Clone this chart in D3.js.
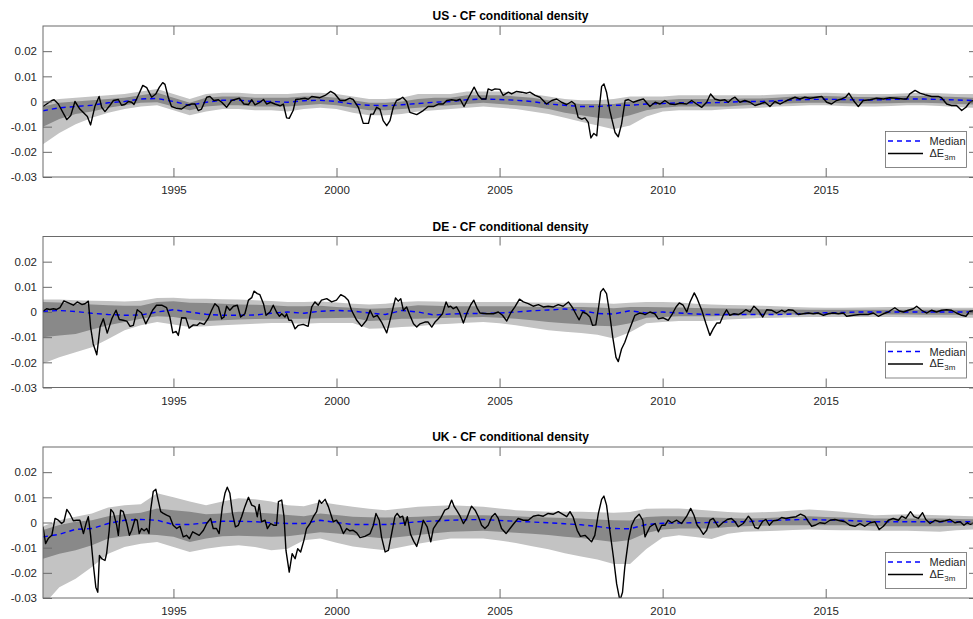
<!DOCTYPE html>
<html>
<head>
<meta charset="utf-8">
<script src="https://cdn.jsdelivr.net/npm/d3@7"></script>
<style>
  body { margin: 0; background: #fff; }
  svg { display: block; }
  text { font-family: "Liberation Sans", Arial, Helvetica, sans-serif; }
</style>
</head>
<body>
<svg id="chart" width="973" height="619"></svg>
<script>
// ---- axis ticks ----
const xTickValues = [1995, 2000, 2005, 2010, 2015];
const yTickValues = [-0.03, -0.02, -0.01, 0, 0.01, 0.02];
const yTickLabels = ["-0.03", "-0.02", "-0.01", "0", "0.01", "0.02"];

// ---- common half-year grid for the density bands ----
const bandDates = [
  1991, 1991.5, 1992, 1992.5, 1993, 1993.5, 1994, 1994.5, 1995, 1995.5,
  1996, 1996.5, 1997, 1997.5, 1998, 1998.5, 1999, 1999.5, 2000, 2000.5,
  2001, 2001.5, 2002, 2002.5, 2003, 2003.5, 2004, 2004.5, 2005, 2005.5,
  2006, 2006.5, 2007, 2007.5, 2008, 2008.5, 2009, 2009.5, 2010, 2010.5,
  2011, 2011.5, 2012, 2012.5, 2013, 2013.5, 2014, 2014.5, 2015, 2015.5,
  2016, 2016.5, 2017, 2017.5, 2018, 2018.5, 2019, 2019.5, 2019.67];

// ---- US ----
const usOuterHigh = [
  0.0000, 0.0010, 0.0015, 0.0020, 0.0025, 0.0030, 0.0040, 0.0050, 0.0030, 0.0010,
  0.0030, 0.0035, 0.0035, 0.0030, 0.0030, 0.0030, 0.0035, 0.0035, 0.0030, 0.0020,
  0.0010, 0.0010, 0.0015, 0.0030, 0.0030, 0.0030, 0.0040, 0.0040, 0.0040, 0.0035,
  0.0030, 0.0020, 0.0010, 0.0005, 0.0005, 0.0010, 0.0020, 0.0020, 0.0020, 0.0025,
  0.0025, 0.0025, 0.0025, 0.0025, 0.0025, 0.0028, 0.0030, 0.0033, 0.0035, 0.0033,
  0.0030, 0.0030, 0.0030, 0.0033, 0.0035, 0.0033, 0.0030, 0.0030, 0.0030];
const usInnerHigh = [
  -0.0020, -0.0005, 0.0000, 0.0005, 0.0010, 0.0015, 0.0025, 0.0035, 0.0015, -0.0005,
  0.0015, 0.0020, 0.0020, 0.0015, 0.0015, 0.0015, 0.0020, 0.0020, 0.0015, 0.0005,
  -0.0005, -0.0005, 0.0000, 0.0010, 0.0015, 0.0015, 0.0025, 0.0025, 0.0025, 0.0020,
  0.0015, 0.0005, -0.0005, -0.0010, -0.0010, -0.0010, 0.0000, 0.0005, 0.0005, 0.0010,
  0.0010, 0.0010, 0.0010, 0.0012, 0.0012, 0.0015, 0.0020, 0.0022, 0.0022, 0.0020,
  0.0018, 0.0018, 0.0020, 0.0022, 0.0022, 0.0020, 0.0018, 0.0015, 0.0015];
const usMedian = [
  -0.0037, -0.0025, -0.0020, -0.0015, -0.0005, 0.0000, 0.0010, 0.0012, 0.0000, -0.0015,
  -0.0003, 0.0005, 0.0005, 0.0000, 0.0000, -0.0003, 0.0003, 0.0005, 0.0000, -0.0010,
  -0.0015, -0.0017, -0.0013, -0.0008, -0.0003, 0.0000, 0.0007, 0.0010, 0.0008, 0.0005,
  0.0000, -0.0010, -0.0015, -0.0020, -0.0020, -0.0015, -0.0015, -0.0010, -0.0008, -0.0005,
  -0.0005, -0.0005, -0.0003, 0.0000, 0.0000, 0.0003, 0.0006, 0.0008, 0.0009, 0.0008,
  0.0006, 0.0006, 0.0008, 0.0010, 0.0010, 0.0008, 0.0006, 0.0004, 0.0003];
const usInnerLow = [
  -0.0100, -0.0070, -0.0050, -0.0040, -0.0025, -0.0015, -0.0005, -0.0003, -0.0020, -0.0035,
  -0.0020, -0.0015, -0.0015, -0.0020, -0.0020, -0.0020, -0.0015, -0.0010, -0.0015, -0.0025,
  -0.0035, -0.0035, -0.0030, -0.0025, -0.0020, -0.0015, -0.0010, -0.0005, -0.0010, -0.0015,
  -0.0020, -0.0030, -0.0045, -0.0055, -0.0065, -0.0070, -0.0055, -0.0035, -0.0025, -0.0020,
  -0.0020, -0.0020, -0.0020, -0.0015, -0.0013, -0.0010, -0.0007, -0.0005, -0.0005, -0.0007,
  -0.0008, -0.0008, -0.0007, -0.0005, -0.0005, -0.0007, -0.0010, -0.0012, -0.0012];
const usOuterLow = [
  -0.0170, -0.0125, -0.0090, -0.0065, -0.0045, -0.0030, -0.0020, -0.0015, -0.0035, -0.0055,
  -0.0040, -0.0030, -0.0030, -0.0035, -0.0035, -0.0040, -0.0030, -0.0025, -0.0030, -0.0045,
  -0.0055, -0.0055, -0.0050, -0.0040, -0.0035, -0.0030, -0.0025, -0.0020, -0.0025, -0.0030,
  -0.0040, -0.0050, -0.0065, -0.0080, -0.0095, -0.0110, -0.0095, -0.0060, -0.0040, -0.0035,
  -0.0035, -0.0035, -0.0030, -0.0028, -0.0025, -0.0020, -0.0018, -0.0015, -0.0015, -0.0018,
  -0.0020, -0.0020, -0.0018, -0.0015, -0.0015, -0.0018, -0.0022, -0.0025, -0.0025];
// realised 3-month change [date, value]
const usDeltaE = [
  [1991.0,-0.002],[1991.27,0.0004],[1991.34,0.0007],[1991.47,-0.001],[1991.73,-0.0072],[1991.85,-0.0056],
  [1991.98,0.0],[1992.13,-0.003],[1992.36,-0.006],[1992.46,-0.0093],[1992.59,-0.002],[1992.72,0.002],
  [1992.8,-0.0023],[1992.9,-0.004],[1993.05,-0.0016],[1993.16,0.0004],[1993.31,0.0008],[1993.41,-0.0015],
  [1993.51,-0.0012],[1993.62,0.0],[1993.72,-0.0003],[1993.79,-0.0012],[1993.92,0.0024],[1994.06,0.0064],
  [1994.18,0.0055],[1994.33,0.0017],[1994.46,0.003],[1994.57,0.0057],[1994.67,0.0075],[1994.74,0.0068],
  [1994.84,0.0017],[1994.94,-0.002],[1995.1,-0.0027],[1995.25,-0.003],[1995.4,-0.0016],[1995.56,-0.001],
  [1995.66,-0.001],[1995.76,-0.0036],[1995.86,-0.003],[1996.02,0.0017],[1996.12,0.002],[1996.24,0.0004],
  [1996.38,0.0007],[1996.48,-0.0003],[1996.63,-0.0023],[1996.78,0.0004],[1997.02,0.0013],[1997.16,-0.001],
  [1997.3,-0.0012],[1997.4,0.0007],[1997.5,-0.0013],[1997.65,-0.0003],[1997.76,0.0008],[1997.86,-0.001],
  [1997.98,-0.0003],[1998.11,-0.001],[1998.27,-0.0017],[1998.37,-0.001],[1998.47,-0.0065],[1998.55,-0.0067],
  [1998.67,-0.0036],[1998.75,0.0008],[1998.88,0.001],[1999.03,0.0013],[1999.13,0.0009],[1999.24,0.002],
  [1999.39,0.0017],[1999.49,0.0015],[1999.65,0.0024],[1999.82,0.004],[1999.95,0.003],[2000.11,0.0004],
  [2000.26,0.0004],[2000.41,0.0013],[2000.51,0.0008],[2000.67,-0.0023],[2000.82,-0.0087],[2000.98,-0.0087],
  [2001.05,-0.005],[2001.13,-0.005],[2001.23,-0.0023],[2001.33,-0.003],[2001.43,-0.0076],[2001.54,-0.0096],
  [2001.64,-0.0076],[2001.74,-0.0023],[2001.84,0.0004],[2001.95,0.001],[2002.03,0.0017],[2002.15,0.0],
  [2002.25,-0.0043],[2002.46,-0.0052],[2002.66,-0.0036],[2002.81,-0.002],[2002.97,-0.002],[2003.12,-0.001],
  [2003.27,-0.001],[2003.38,0.0004],[2003.53,0.0007],[2003.68,0.0004],[2003.79,0.0009],[2003.91,-0.002],
  [2004.04,0.0013],[2004.22,0.0057],[2004.35,0.0024],[2004.45,0.001],[2004.58,0.001],[2004.65,0.005],
  [2004.76,0.0044],[2004.86,0.005],[2005.01,0.0048],[2005.11,0.0024],[2005.27,0.0037],[2005.37,0.003],
  [2005.52,0.004],[2005.68,0.0037],[2005.83,0.0033],[2005.93,0.0037],[2006.09,0.0024],[2006.24,0.0017],
  [2006.44,-0.001],[2006.6,0.0004],[2006.75,0.001],[2006.9,-0.0003],[2007.06,-0.0012],[2007.21,0.0],
  [2007.31,-0.001],[2007.41,-0.0063],[2007.52,-0.007],[2007.62,-0.0065],[2007.72,-0.0083],[2007.8,-0.0145],
  [2007.89,-0.0127],[2007.98,-0.0136],[2008.06,-0.0023],[2008.13,0.006],[2008.2,0.007],[2008.28,0.0037],
  [2008.38,-0.0036],[2008.54,-0.0123],[2008.64,-0.014],[2008.74,-0.009],[2008.85,0.0004],[2008.95,0.0008],
  [2009.1,-0.0003],[2009.25,0.0004],[2009.41,0.001],[2009.61,-0.002],[2009.77,-0.0003],[2009.92,-0.001],
  [2010.07,0.0004],[2010.22,-0.001],[2010.38,-0.0012],[2010.53,-0.0007],[2010.74,-0.001],[2010.89,0.0004],
  [2011.04,-0.001],[2011.2,-0.0023],[2011.35,-0.0003],[2011.47,0.003],[2011.6,0.001],[2011.76,0.0004],
  [2011.91,0.0007],[2012.01,-0.0003],[2012.12,0.001],[2012.22,0.0017],[2012.37,-0.0003],[2012.52,0.0004],
  [2012.68,-0.0003],[2012.83,-0.0016],[2012.98,-0.001],[2013.14,-0.0003],[2013.29,-0.002],[2013.44,0.0],
  [2013.6,-0.001],[2013.75,0.0],[2013.9,0.0009],[2014.06,0.0017],[2014.21,0.001],[2014.36,0.0017],
  [2014.52,0.0013],[2014.72,0.0017],[2014.88,0.002],[2015.03,-0.0003],[2015.18,-0.001],[2015.33,0.0004],
  [2015.49,0.001],[2015.61,0.0017],[2015.71,0.0033],[2015.85,0.0004],[2016.0,-0.002],[2016.15,0.0004],
  [2016.36,0.0007],[2016.56,0.0013],[2016.77,0.001],[2016.97,0.0015],[2017.17,0.0013],[2017.38,0.001],
  [2017.48,0.001],[2017.58,0.003],[2017.74,0.0044],[2017.89,0.0033],[2018.04,0.0027],[2018.25,0.002],
  [2018.45,0.002],[2018.55,0.0015],[2018.71,-0.001],[2018.86,-0.0016],[2019.01,-0.0016],[2019.17,-0.0036],
  [2019.3,-0.0023],[2019.42,-0.0003],[2019.55,0.0005],[2019.67,-0.0008]];

// ---- DE ----
const deOuterHigh = [
  0.0050, 0.0050, 0.0047, 0.0045, 0.0044, 0.0042, 0.0045, 0.0056, 0.0057, 0.0053,
  0.0053, 0.0051, 0.0050, 0.0047, 0.0044, 0.0040, 0.0040, 0.0042, 0.0038, 0.0033,
  0.0030, 0.0033, 0.0040, 0.0043, 0.0042, 0.0040, 0.0040, 0.0040, 0.0040, 0.0040,
  0.0038, 0.0037, 0.0037, 0.0037, 0.0036, 0.0033, 0.0037, 0.0040, 0.0040, 0.0038,
  0.0033, 0.0030, 0.0028, 0.0027, 0.0025, 0.0023, 0.0020, 0.0018, 0.0017, 0.0017,
  0.0018, 0.0019, 0.0020, 0.0020, 0.0019, 0.0018, 0.0017, 0.0017, 0.0017];
const deInnerHigh = [
  0.0040, 0.0038, 0.0033, 0.0030, 0.0027, 0.0025, 0.0025, 0.0040, 0.0043, 0.0037,
  0.0036, 0.0033, 0.0030, 0.0029, 0.0027, 0.0023, 0.0023, 0.0025, 0.0020, 0.0017,
  0.0013, 0.0015, 0.0020, 0.0027, 0.0025, 0.0023, 0.0023, 0.0023, 0.0023, 0.0023,
  0.0021, 0.0020, 0.0020, 0.0020, 0.0018, 0.0015, 0.0020, 0.0020, 0.0019, 0.0018,
  0.0016, 0.0015, 0.0014, 0.0013, 0.0011, 0.0010, 0.0010, 0.0009, 0.0009, 0.0009,
  0.0009, 0.0009, 0.0009, 0.0009, 0.0009, 0.0009, 0.0009, 0.0009, 0.0009];
const deMedian = [
  0.0003, 0.0006, 0.0002, -0.0005, -0.0010, -0.0013, -0.0012, 0.0000, 0.0009, 0.0000,
  -0.0009, -0.0013, -0.0013, -0.0012, -0.0005, 0.0000, -0.0005, 0.0003, 0.0006, 0.0004,
  -0.0004, -0.0010, 0.0006, 0.0000, -0.0012, -0.0008, -0.0006, -0.0006, -0.0004, 0.0000,
  0.0005, 0.0008, 0.0012, 0.0006, -0.0006, -0.0008, 0.0005, -0.0004, 0.0000, -0.0004,
  -0.0008, -0.0010, -0.0010, -0.0010, -0.0010, -0.0010, -0.0008, -0.0005, -0.0003, -0.0002,
  0.0000, 0.0000, 0.0000, 0.0000, 0.0000, 0.0000, 0.0000, 0.0000, 0.0000];
const deInnerLow = [
  -0.0100, -0.0093, -0.0087, -0.0070, -0.0053, -0.0040, -0.0027, -0.0017, -0.0020, -0.0030,
  -0.0036, -0.0033, -0.0030, -0.0028, -0.0027, -0.0027, -0.0027, -0.0025, -0.0024, -0.0023,
  -0.0036, -0.0033, -0.0027, -0.0027, -0.0025, -0.0023, -0.0022, -0.0020, -0.0023, -0.0027,
  -0.0033, -0.0040, -0.0045, -0.0049, -0.0055, -0.0057, -0.0045, -0.0023, -0.0020, -0.0017,
  -0.0017, -0.0017, -0.0015, -0.0013, -0.0011, -0.0010, -0.0010, -0.0010, -0.0010, -0.0010,
  -0.0010, -0.0010, -0.0010, -0.0010, -0.0011, -0.0011, -0.0011, -0.0011, -0.0011];
const deOuterLow = [
  -0.0205, -0.0180, -0.0160, -0.0140, -0.0107, -0.0073, -0.0053, -0.0040, -0.0050, -0.0060,
  -0.0057, -0.0053, -0.0050, -0.0047, -0.0044, -0.0044, -0.0047, -0.0044, -0.0044, -0.0044,
  -0.0067, -0.0065, -0.0060, -0.0057, -0.0050, -0.0047, -0.0043, -0.0040, -0.0045, -0.0053,
  -0.0063, -0.0073, -0.0078, -0.0083, -0.0090, -0.0105, -0.0080, -0.0045, -0.0040, -0.0036,
  -0.0036, -0.0036, -0.0030, -0.0027, -0.0024, -0.0023, -0.0021, -0.0020, -0.0020, -0.0020,
  -0.0020, -0.0020, -0.0020, -0.0021, -0.0022, -0.0022, -0.0023, -0.0023, -0.0023];
const deDeltaE = [
  [1991.0,0.0003],[1991.11,0.0013],[1991.21,0.001],[1991.32,0.0013],[1991.42,0.001],[1991.52,0.0017],
  [1991.64,0.0044],[1991.78,0.0036],[1991.93,0.0027],[1992.05,0.004],[1992.19,0.003],[1992.29,0.0033],
  [1992.39,0.0043],[1992.46,-0.006],[1992.54,-0.0127],[1992.65,-0.017],[1992.75,-0.006],[1992.85,-0.0027],
  [1992.97,-0.0084],[1993.11,-0.0027],[1993.24,0.0007],[1993.34,-0.003],[1993.46,-0.0033],[1993.57,-0.0036],
  [1993.67,-0.0057],[1993.77,-0.0053],[1993.89,0.0009],[1994.02,-0.0004],[1994.15,-0.0047],[1994.26,-0.002],
  [1994.36,0.0007],[1994.48,0.0027],[1994.64,0.0027],[1994.79,0.0017],[1994.89,-0.002],[1994.98,-0.0083],
  [1995.08,-0.0077],[1995.15,-0.0093],[1995.25,-0.0023],[1995.38,-0.0024],[1995.48,-0.0064],[1995.61,-0.0051],
  [1995.73,-0.0053],[1995.81,-0.0043],[1995.94,-0.0049],[1996.07,-0.0024],[1996.17,0.0007],[1996.27,0.0033],
  [1996.38,0.002],[1996.48,-0.0027],[1996.55,-0.002],[1996.63,0.0023],[1996.73,0.0007],[1996.84,0.0023],
  [1996.96,0.0027],[1997.06,-0.002],[1997.19,-0.0007],[1997.3,0.0047],[1997.4,0.0057],[1997.47,0.0083],
  [1997.57,0.0073],[1997.65,0.0069],[1997.76,0.0033],[1997.84,-0.0013],[1997.96,0.0],[1998.06,0.0027],
  [1998.16,0.0],[1998.25,-0.0017],[1998.32,-0.0007],[1998.42,-0.002],[1998.47,-0.0007],[1998.54,-0.0033],
  [1998.62,-0.0033],[1998.73,-0.0067],[1998.83,-0.0053],[1998.98,-0.0049],[1999.13,-0.0057],[1999.24,0.002],
  [1999.34,0.004],[1999.44,0.0027],[1999.54,0.0047],[1999.7,0.0053],[1999.85,0.004],[2000.0,0.0047],
  [2000.13,0.0069],[2000.26,0.006],[2000.36,0.0047],[2000.46,0.0007],[2000.62,-0.0033],[2000.77,-0.0057],
  [2000.92,-0.0033],[2001.03,0.0007],[2001.13,-0.002],[2001.25,-0.0013],[2001.38,-0.004],[2001.54,-0.0083],
  [2001.64,-0.0033],[2001.74,0.002],[2001.81,0.0056],[2001.89,0.0043],[2001.97,0.0053],[2002.05,0.0007],
  [2002.15,0.002],[2002.25,-0.0013],[2002.36,-0.0047],[2002.46,-0.006],[2002.56,-0.0047],[2002.71,-0.004],
  [2002.81,-0.004],[2002.92,-0.006],[2003.02,-0.004],[2003.12,-0.0027],[2003.25,-0.0007],[2003.36,0.004],
  [2003.43,0.002],[2003.5,0.0023],[2003.58,0.0013],[2003.68,0.002],[2003.77,0.0],[2003.89,-0.0044],
  [2003.99,-0.0007],[2004.11,0.0027],[2004.21,0.0047],[2004.32,0.0013],[2004.4,-0.0004],[2004.6,-0.0007],
  [2004.81,-0.0007],[2004.96,0.0],[2005.09,-0.0013],[2005.22,-0.0036],[2005.34,-0.0004],[2005.47,0.002],
  [2005.61,0.0051],[2005.73,0.004],[2005.88,0.0033],[2006.03,0.0023],[2006.19,0.0029],[2006.34,0.002],
  [2006.49,0.0023],[2006.65,0.002],[2006.8,0.0029],[2006.95,0.0023],[2007.11,0.004],[2007.24,0.0017],
  [2007.36,-0.0013],[2007.44,-0.0031],[2007.55,0.0],[2007.67,-0.0007],[2007.77,-0.002],[2007.85,-0.0053],
  [2007.95,-0.0051],[2008.03,0.0013],[2008.1,0.008],[2008.18,0.0093],[2008.28,0.0073],[2008.36,0.0007],
  [2008.47,-0.01],[2008.57,-0.018],[2008.64,-0.0197],[2008.74,-0.0147],[2008.84,-0.012],[2008.95,-0.008],
  [2009.05,-0.0047],[2009.15,-0.0013],[2009.29,-0.0004],[2009.41,-0.0007],[2009.46,-0.001],[2009.61,0.0],
  [2009.76,-0.0007],[2009.87,-0.0027],[2010.02,-0.0023],[2010.17,-0.0033],[2010.3,-0.0007],[2010.41,0.002],
  [2010.51,0.0036],[2010.63,0.0027],[2010.74,0.0],[2010.84,0.004],[2010.97,0.0076],[2011.06,0.0053],
  [2011.2,0.0007],[2011.33,-0.0047],[2011.45,-0.0093],[2011.55,-0.0067],[2011.66,-0.0044],[2011.76,-0.0044],
  [2011.86,-0.0013],[2011.96,0.0009],[2012.06,-0.0013],[2012.19,-0.0007],[2012.32,-0.001],[2012.42,-0.0004],
  [2012.55,0.0009],[2012.68,0.0],[2012.8,0.0023],[2012.93,0.0007],[2013.07,-0.002],[2013.19,0.0009],
  [2013.34,0.0007],[2013.5,-0.0004],[2013.65,0.0007],[2013.75,0.0],[2013.85,0.0009],[2014.0,0.0007],
  [2014.16,-0.001],[2014.31,-0.0007],[2014.47,-0.0004],[2014.62,-0.0007],[2014.77,-0.0004],[2014.93,-0.0013],
  [2015.08,-0.0007],[2015.23,-0.0004],[2015.39,-0.0007],[2015.54,-0.0004],[2015.64,-0.0017],[2015.85,-0.0013],
  [2016.05,-0.001],[2016.3,-0.001],[2016.46,-0.0004],[2016.61,-0.0017],[2016.77,-0.0007],[2016.92,0.0],
  [2017.02,0.0009],[2017.12,0.0017],[2017.26,0.0004],[2017.38,0.0],[2017.53,0.0007],[2017.69,0.0013],
  [2017.79,0.0023],[2017.94,0.0007],[2018.09,-0.0004],[2018.25,0.0007],[2018.4,0.0],[2018.55,0.0007],
  [2018.71,0.0009],[2018.86,0.0007],[2019.01,-0.0004],[2019.17,-0.0013],[2019.3,-0.0017],[2019.42,0.0003],
  [2019.55,0.0005],[2019.67,-0.0005]];

// ---- UK ----
const ukOuterHigh = [
  -0.0015, 0.0009, 0.0023, 0.0036, 0.0060, 0.0069, 0.0073, 0.0116, 0.0100, 0.0083,
  0.0069, 0.0083, 0.0096, 0.0092, 0.0083, 0.0069, 0.0065, 0.0081, 0.0072, 0.0063,
  0.0055, 0.0049, 0.0056, 0.0063, 0.0066, 0.0069, 0.0066, 0.0063, 0.0056, 0.0049,
  0.0046, 0.0043, 0.0043, 0.0043, 0.0041, 0.0039, 0.0042, 0.0055, 0.0056, 0.0056,
  0.0052, 0.0047, 0.0042, 0.0039, 0.0041, 0.0043, 0.0048, 0.0052, 0.0048, 0.0043,
  0.0036, 0.0029, 0.0031, 0.0033, 0.0031, 0.0029, 0.0027, 0.0025, 0.0025];
const ukInnerHigh = [
  -0.0030, -0.0010, 0.0003, 0.0009, 0.0025, 0.0033, 0.0039, 0.0056, 0.0049, 0.0043,
  0.0033, 0.0036, 0.0043, 0.0040, 0.0036, 0.0030, 0.0025, 0.0036, 0.0030, 0.0023,
  0.0021, 0.0020, 0.0021, 0.0023, 0.0026, 0.0029, 0.0029, 0.0029, 0.0027, 0.0025,
  0.0022, 0.0020, 0.0018, 0.0016, 0.0012, 0.0009, 0.0008, 0.0022, 0.0025, 0.0025,
  0.0022, 0.0020, 0.0018, 0.0016, 0.0017, 0.0020, 0.0022, 0.0025, 0.0022, 0.0020,
  0.0018, 0.0016, 0.0016, 0.0016, 0.0016, 0.0016, 0.0014, 0.0013, 0.0013];
const ukMedian = [
  -0.0057, -0.0047, -0.0027, -0.0024, -0.0004, 0.0009, 0.0012, 0.0009, -0.0008, -0.0008,
  -0.0001, 0.0005, 0.0005, 0.0003, -0.0001, -0.0004, -0.0004, 0.0009, 0.0000, -0.0008,
  -0.0008, -0.0008, -0.0003, 0.0003, 0.0006, 0.0009, 0.0011, 0.0012, 0.0008, 0.0005,
  0.0002, -0.0001, -0.0005, -0.0009, -0.0016, -0.0024, -0.0025, -0.0008, -0.0003, -0.0002,
  -0.0001, 0.0000, 0.0002, 0.0003, 0.0006, 0.0009, 0.0011, 0.0012, 0.0010, 0.0009,
  0.0006, 0.0003, 0.0003, 0.0003, 0.0003, 0.0003, 0.0003, 0.0003, 0.0003];
const ukInnerLow = [
  -0.0144, -0.0124, -0.0110, -0.0090, -0.0064, -0.0055, -0.0047, -0.0050, -0.0057, -0.0077,
  -0.0064, -0.0055, -0.0053, -0.0055, -0.0057, -0.0055, -0.0047, -0.0039, -0.0044, -0.0050,
  -0.0058, -0.0064, -0.0057, -0.0050, -0.0043, -0.0037, -0.0035, -0.0033, -0.0037, -0.0041,
  -0.0045, -0.0050, -0.0057, -0.0062, -0.0070, -0.0077, -0.0070, -0.0042, -0.0028, -0.0024,
  -0.0024, -0.0024, -0.0018, -0.0015, -0.0013, -0.0011, -0.0011, -0.0011, -0.0011, -0.0011,
  -0.0013, -0.0015, -0.0015, -0.0015, -0.0015, -0.0015, -0.0013, -0.0011, -0.0011];
const ukOuterLow = [
  -0.0330, -0.0257, -0.0224, -0.0177, -0.0124, -0.0097, -0.0084, -0.0077, -0.0097, -0.0117,
  -0.0104, -0.0095, -0.0090, -0.0097, -0.0110, -0.0104, -0.0071, -0.0064, -0.0080, -0.0095,
  -0.0103, -0.0110, -0.0097, -0.0084, -0.0074, -0.0064, -0.0064, -0.0064, -0.0072, -0.0081,
  -0.0094, -0.0106, -0.0122, -0.0135, -0.0147, -0.0165, -0.0165, -0.0105, -0.0060, -0.0051,
  -0.0058, -0.0066, -0.0045, -0.0037, -0.0035, -0.0033, -0.0030, -0.0028, -0.0030, -0.0031,
  -0.0031, -0.0033, -0.0033, -0.0033, -0.0035, -0.0037, -0.0031, -0.0028, -0.0028];
const ukDeltaE = [
  [1991.0,-0.0017],[1991.08,-0.0084],[1991.16,-0.0064],[1991.27,-0.0051],[1991.37,0.0016],[1991.47,0.0009],
  [1991.57,-0.0004],[1991.64,0.0003],[1991.73,0.0052],[1991.83,0.0033],[1991.93,0.0007],[1992.03,0.0009],
  [1992.13,0.0009],[1992.24,-0.0044],[1992.32,-0.0004],[1992.39,0.0023],[1992.46,-0.0051],[1992.54,-0.0164],
  [1992.62,-0.0257],[1992.68,-0.0277],[1992.73,-0.0131],[1992.8,-0.0144],[1992.9,-0.0151],[1992.95,-0.0124],
  [1993.03,-0.0031],[1993.08,0.0052],[1993.16,0.0039],[1993.26,-0.0011],[1993.31,-0.0051],[1993.38,0.0049],
  [1993.46,0.0043],[1993.57,-0.0004],[1993.65,-0.0051],[1993.72,-0.0031],[1993.82,0.0013],[1993.89,0.0009],
  [1993.95,-0.0044],[1994.02,-0.0024],[1994.1,-0.0033],[1994.18,-0.0024],[1994.25,-0.0044],[1994.3,0.0049],
  [1994.38,0.0123],[1994.46,0.0132],[1994.54,0.0083],[1994.61,0.0043],[1994.69,0.0036],[1994.79,0.0029],
  [1994.89,0.0023],[1994.99,-0.0011],[1995.1,-0.0024],[1995.2,-0.0015],[1995.3,-0.0057],[1995.4,-0.0051],
  [1995.49,-0.0064],[1995.59,-0.0037],[1995.69,-0.0044],[1995.79,-0.0051],[1995.92,-0.0031],[1996.02,-0.0004],
  [1996.14,0.0016],[1996.22,-0.0024],[1996.32,-0.0024],[1996.4,-0.0044],[1996.5,0.0063],[1996.58,0.0116],
  [1996.65,0.014],[1996.73,0.0116],[1996.81,0.0036],[1996.9,-0.0017],[1996.99,-0.0011],[1997.09,0.0023],
  [1997.19,0.0063],[1997.3,0.01],[1997.4,0.0069],[1997.5,0.0063],[1997.57,0.0023],[1997.63,0.0072],
  [1997.7,0.0003],[1997.81,0.0009],[1997.88,-0.0024],[1997.98,-0.0004],[1998.08,-0.0011],[1998.16,-0.0011],
  [1998.22,0.0083],[1998.32,0.0089],[1998.39,0.0023],[1998.45,-0.0111],[1998.55,-0.0197],[1998.64,-0.0124],
  [1998.73,-0.0144],[1998.81,-0.0104],[1998.9,-0.0117],[1999.0,-0.0071],[1999.08,-0.0024],[1999.19,-0.0004],
  [1999.29,0.0023],[1999.39,0.0043],[1999.47,0.0089],[1999.54,0.0076],[1999.65,0.0092],[1999.75,0.0063],
  [1999.9,0.0003],[2000.0,0.0009],[2000.11,-0.0011],[2000.21,-0.0044],[2000.31,-0.0024],[2000.41,-0.0033],
  [2000.51,-0.0031],[2000.62,-0.0041],[2000.72,-0.006],[2000.87,-0.0055],[2001.03,-0.0044],[2001.13,-0.0011],
  [2001.21,0.0036],[2001.31,0.0009],[2001.38,-0.0057],[2001.49,-0.0117],[2001.59,-0.0111],[2001.69,-0.0044],
  [2001.79,0.0023],[2001.86,0.0036],[2001.95,0.002],[2002.03,0.0025],[2002.1,-0.0011],[2002.17,0.0023],
  [2002.27,-0.0047],[2002.37,-0.0075],[2002.46,-0.0095],[2002.56,-0.0051],[2002.66,0.0009],[2002.78,-0.0017],
  [2002.89,-0.0077],[2002.97,-0.0024],[2003.07,-0.0004],[2003.19,0.0016],[2003.32,0.0049],[2003.43,0.0056],
  [2003.53,0.0089],[2003.61,0.0063],[2003.68,0.0049],[2003.79,0.0025],[2003.89,-0.0004],[2003.99,0.0016],
  [2004.07,0.0043],[2004.14,0.0065],[2004.25,0.0049],[2004.35,0.0023],[2004.45,-0.0011],[2004.55,-0.0024],
  [2004.65,-0.0011],[2004.76,0.0023],[2004.86,0.0036],[2004.96,0.0016],[2005.06,-0.0024],[2005.2,-0.0044],
  [2005.32,-0.0024],[2005.44,-0.0004],[2005.57,0.0016],[2005.73,0.0009],[2005.88,0.0009],[2006.03,0.0025],
  [2006.19,0.0029],[2006.34,0.0025],[2006.49,0.0036],[2006.65,0.0033],[2006.8,0.0043],[2006.93,0.0033],
  [2007.06,0.0023],[2007.16,0.0043],[2007.26,0.002],[2007.38,-0.0031],[2007.48,-0.0055],[2007.62,-0.0051],
  [2007.72,-0.0064],[2007.82,-0.0077],[2007.92,-0.0051],[2008.03,0.0036],[2008.13,0.0092],[2008.2,0.0105],
  [2008.28,0.0069],[2008.36,-0.0011],[2008.49,-0.0137],[2008.59,-0.0244],[2008.69,-0.031],[2008.77,-0.0277],
  [2008.84,-0.0177],[2008.95,-0.0071],[2009.05,-0.0011],[2009.15,0.0016],[2009.28,0.0033],[2009.39,0.0009],
  [2009.46,-0.0057],[2009.61,-0.0017],[2009.77,-0.0004],[2009.87,-0.0037],[2009.97,-0.0011],[2010.07,-0.0011],
  [2010.17,0.0009],[2010.28,-0.0001],[2010.43,0.0009],[2010.58,-0.0004],[2010.74,0.0025],[2010.86,0.0056],
  [2010.96,0.0029],[2011.06,-0.0011],[2011.14,-0.0024],[2011.25,-0.0047],[2011.35,-0.0031],[2011.45,0.0009],
  [2011.55,0.0016],[2011.71,-0.0017],[2011.84,-0.0001],[2011.98,0.0012],[2012.11,0.0016],[2012.22,0.0003],
  [2012.32,-0.0017],[2012.47,-0.0004],[2012.63,0.0025],[2012.73,0.0009],[2012.83,-0.002],[2012.93,-0.0024],
  [2013.07,0.0005],[2013.17,0.0012],[2013.27,-0.0011],[2013.39,0.0007],[2013.52,0.0009],[2013.65,0.002],
  [2013.78,0.0016],[2013.92,0.002],[2014.09,0.0023],[2014.23,0.0033],[2014.36,0.0025],[2014.47,0.0003],
  [2014.57,-0.0015],[2014.67,-0.0011],[2014.82,-0.0001],[2014.98,-0.0004],[2015.13,0.0009],[2015.28,0.0012],
  [2015.44,0.0007],[2015.59,0.0003],[2015.74,-0.0011],[2015.9,-0.0015],[2016.05,-0.0004],[2016.2,-0.0015],
  [2016.36,-0.0001],[2016.51,0.0003],[2016.64,-0.0028],[2016.77,-0.0015],[2016.92,0.0009],[2017.07,0.0016],
  [2017.23,0.0009],[2017.33,0.0025],[2017.46,0.0016],[2017.6,0.0043],[2017.71,0.0023],[2017.84,0.0016],
  [2017.97,0.0039],[2018.07,0.0012],[2018.2,-0.0004],[2018.35,0.0009],[2018.5,0.0003],[2018.66,0.0007],
  [2018.81,0.0012],[2018.96,-0.0001],[2019.12,0.0003],[2019.24,-0.0011],[2019.34,-0.0001],[2019.44,-0.0007],
  [2019.55,0.0],[2019.67,-0.0005]];

const panels = [
  { title: "US - CF conditional density", outerHigh: usOuterHigh, innerHigh: usInnerHigh,
    median: usMedian, innerLow: usInnerLow, outerLow: usOuterLow, deltaE: usDeltaE },
  { title: "DE - CF conditional density", outerHigh: deOuterHigh, innerHigh: deInnerHigh,
    median: deMedian, innerLow: deInnerLow, outerLow: deOuterLow, deltaE: deDeltaE },
  { title: "UK - CF conditional density", outerHigh: ukOuterHigh, innerHigh: ukInnerHigh,
    median: ukMedian, innerLow: ukInnerLow, outerLow: ukOuterLow, deltaE: ukDeltaE }
];

// ---- layout ----
const svg = d3.select("#chart");
const plotLeft = 43, plotRight = 978, plotH = 151;
const panelTops = [26, 236.5, 447];
const axisColor = "#6a6a6a", textColor = "#262626";
const tickLen = 9;

const x = d3.scaleLinear().domain([1991, 2019.67]).range([plotLeft, plotRight]);

panels.forEach((p, k) => {
  const top = panelTops[k], bottom = top + plotH;
  const y = d3.scaleLinear().domain([-0.03, 0.03]).range([bottom, top]);
  const g = svg.append("g");

  const clipId = "plot-clip-" + k;
  svg.append("clipPath").attr("id", clipId)
    .append("rect").attr("x", plotLeft).attr("y", top)
    .attr("width", plotRight - plotLeft).attr("height", plotH);
  const plot = g.append("g").attr("clip-path", `url(#${clipId})`);

  const band = (lo, hi) => d3.area()
    .x((d, i) => x(bandDates[i]))
    .y0((d, i) => y(lo[i]))
    .y1((d, i) => y(hi[i]));

  plot.append("path").datum(bandDates)
    .attr("d", band(p.outerLow, p.outerHigh)).attr("fill", "#c3c3c3");
  plot.append("path").datum(bandDates)
    .attr("d", band(p.innerLow, p.innerHigh)).attr("fill", "#898989");

  plot.append("path").datum(bandDates)
    .attr("d", d3.line().x((d, i) => x(bandDates[i])).y((d, i) => y(p.median[i])))
    .attr("fill", "none").attr("stroke", "#0000ff").attr("stroke-width", 1.4)
    .attr("stroke-dasharray", "5,4");

  plot.append("path").datum(p.deltaE)
    .attr("d", d3.line().x(d => x(d[0])).y(d => y(d[1])))
    .attr("fill", "none").attr("stroke", "#000").attr("stroke-width", 1.4)
    .attr("stroke-linejoin", "round");

  // axes with inward ticks on all four sides
  const bottomAxis = g.append("g").attr("transform", `translate(0,${bottom})`)
    .call(d3.axisBottom(x).tickValues(xTickValues).tickFormat(d3.format("d"))
      .tickSizeInner(-tickLen).tickSizeOuter(0).tickPadding(9));
  const topAxis = g.append("g").attr("transform", `translate(0,${top})`)
    .call(d3.axisTop(x).tickValues(xTickValues).tickFormat("")
      .tickSizeInner(-tickLen).tickSizeOuter(0));
  const leftAxis = g.append("g").attr("transform", `translate(${plotLeft},0)`)
    .call(d3.axisLeft(y).tickValues(yTickValues)
      .tickFormat(d => yTickLabels[yTickValues.indexOf(d)])
      .tickSizeInner(-tickLen).tickSizeOuter(0).tickPadding(6));
  const rightAxis = g.append("g").attr("transform", `translate(${plotRight},0)`)
    .call(d3.axisRight(y).tickValues(yTickValues).tickFormat("")
      .tickSizeInner(-tickLen).tickSizeOuter(0));

  [bottomAxis, topAxis, leftAxis, rightAxis].forEach(a => {
    a.select(".domain").remove();
    a.selectAll(".tick line").attr("stroke", axisColor);
    a.selectAll(".tick text").attr("fill", textColor).style("font-size", "11.5px");
  });

  g.append("rect").attr("x", plotLeft).attr("y", top)
    .attr("width", plotRight - plotLeft).attr("height", plotH)
    .attr("fill", "none").attr("stroke", axisColor).attr("stroke-width", 1);

  g.append("text").attr("x", (plotLeft + plotRight) / 2).attr("y", top - 6)
    .attr("text-anchor", "middle").attr("font-weight", "bold")
    .style("font-size", "12px").attr("fill", "#000").text(p.title);

  // legend (south-east)
  const lg = g.append("g");
  lg.append("rect").attr("x", 885.5).attr("y", bottom - 45.5)
    .attr("width", 81).attr("height", 36)
    .attr("fill", "#fff").attr("stroke", "#6a6a6a").attr("stroke-width", 0.8);
  const row1 = bottom - 36, row2 = bottom - 23.5;
  lg.append("line").attr("x1", 888).attr("x2", 923).attr("y1", row1).attr("y2", row1)
    .attr("stroke", "#0000ff").attr("stroke-width", 1.4).attr("stroke-dasharray", "5,4");
  lg.append("text").attr("x", 929.5).attr("y", row1 + 4)
    .style("font-size", "11px").attr("fill", textColor).text("Median");
  lg.append("line").attr("x1", 888).attr("x2", 923).attr("y1", row2).attr("y2", row2)
    .attr("stroke", "#000").attr("stroke-width", 1.4);
  const t = lg.append("text").attr("x", 929.5).attr("y", row2 + 3)
    .style("font-size", "11px").attr("fill", textColor);
  t.append("tspan").text("\u0394E");
  t.append("tspan").attr("dy", 3).style("font-size", "8px").text("3m");
});
</script>
</body>
</html>
